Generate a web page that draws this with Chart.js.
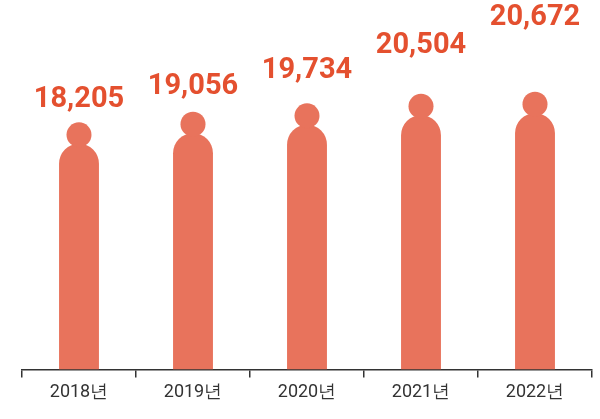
<!DOCTYPE html>
<html>
<head>
<meta charset="utf-8">
<script src="https://cdn.jsdelivr.net/npm/chart.js@4"></script>
<style>
  html, body { margin: 0; padding: 0; background: #fff; }
  #wrap { width: 600px; height: 419px; }
</style>
</head>
<body>
<div id="wrap"><canvas id="chart"></canvas></div>
<script>
const years = ['2018년', '2019년', '2020년', '2021년', '2022년'];
const values = [18205, 19056, 19734, 20504, 20672];

const barColor = '#E8735C';
const labelColor = '#E4502F';
// how far each value label sits above its head (staggered in the original)
const labelLift = [35, 37, 45, 60, 86];

// circle "head" + value label above each bar
const headPlugin = {
  id: 'heads',
  afterDatasetsDraw(chart) {
    const ctx = chart.ctx;
    const meta = chart.getDatasetMeta(0);
    meta.data.forEach((bar, i) => {
      const cy = bar.y - 9;
      ctx.save();
      ctx.fillStyle = barColor;
      ctx.beginPath();
      ctx.arc(bar.x, cy, 12.5, 0, Math.PI * 2);
      ctx.fill();
      ctx.fillStyle = labelColor;
      ctx.font = 'bold 29px Roboto';
      ctx.textAlign = 'center';
      ctx.textBaseline = 'middle';
      ctx.fillText(values[i].toLocaleString('en-US'), bar.x, cy - labelLift[i]);
      ctx.restore();
    });
  }
};

new Chart(document.getElementById('chart'), {
  type: 'bar',
  data: {
    labels: years,
    datasets: [{
      data: values,
      backgroundColor: barColor,
      borderRadius: { topLeft: 20, topRight: 20 },
      borderSkipped: 'bottom',
      categoryPercentage: 1,
      barPercentage: 0.35
    }]
  },
  options: {
    responsive: true,
    maintainAspectRatio: false,
    animation: false,
    layout: { padding: { left: 22, right: 8, top: 0, bottom: 12 } },
    plugins: { legend: { display: false }, tooltip: { enabled: false } },
    scales: {
      y: { display: false, min: 0, max: 29800 },
      x: {
        border: { color: '#333', width: 1.5 },
        grid: { offset: true, drawOnChartArea: false, tickLength: 8, color: '#333', lineWidth: 1.5 },
        ticks: { color: '#333', padding: 4, font: { family: 'Roboto', size: 18 } }
      }
    }
  },
  plugins: [headPlugin]
});
</script>
</body>
</html>
